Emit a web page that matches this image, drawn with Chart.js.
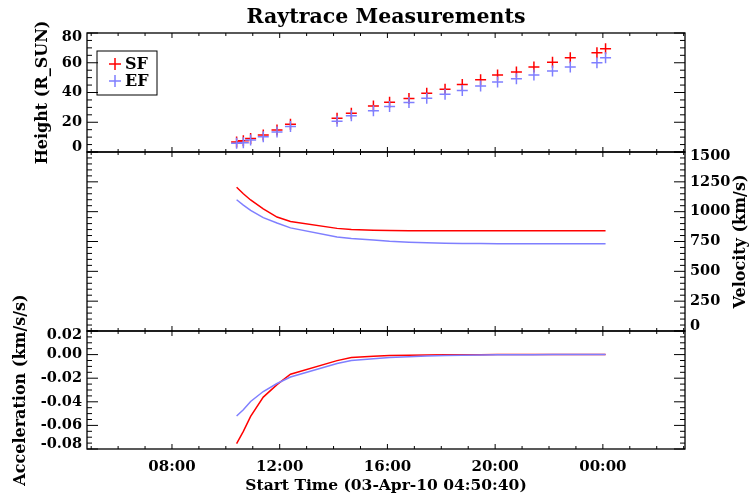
<!DOCTYPE html>
<html lang="en">
<head>
<meta charset="UTF-8">
<title>Raytrace Measurements</title>
<script src="https://cdn.jsdelivr.net/npm/chart.js"></script>
<style>
  body { margin: 0; background: #fff; }
  #wrap { position: relative; width: 750px; height: 501px; }
  #wrap canvas { position: absolute; left: 0; top: 0; }
</style>
</head>
<body>
<div id="wrap">
  <canvas id="heightChart" width="750" height="501"></canvas>
  <canvas id="velChart" width="750" height="501"></canvas>
  <canvas id="accChart" width="750" height="501"></canvas>
</div>
<script>
// time axis in hours after 03-Apr-10 00:00
const startHour = 4 + 50 / 60 + 40 / 3600;
const endHour = 27.05;
const xTickHours = [8, 12, 16, 20, 24];
const xTickLabels = ['08:00', '12:00', '16:00', '20:00', '00:00'];

const times = [10.40, 10.65, 10.92, 11.39, 11.90, 12.40, 14.13, 14.66, 15.48, 16.08, 16.80,
               17.46, 18.14, 18.78, 19.46, 20.09, 20.79, 21.44, 22.13, 22.79, 23.78, 24.10];

const heightSF = [6.7, 7.6, 9.0, 11.5, 14.8, 18.6, 22.7, 26.1, 31.0, 33.4, 35.9,
                  39.5, 42.2, 45.4, 48.5, 51.8, 53.7, 57.1, 60.4, 63.3, 66.7, 69.4];
const heightEF = [5.8, 6.3, 8.1, 10.3, 13.5, 17.1, 20.7, 24.3, 27.8, 30.6, 33.2,
                  36.2, 38.9, 41.3, 44.3, 47.0, 49.2, 51.7, 54.4, 57.1, 60.0, 63.3];

const velSF = [1204, 1150, 1098, 1024, 955, 918, 860, 850, 845, 842, 841,
               840, 840, 840, 840, 840, 840, 840, 840, 840, 840, 840];
const velEF = [1100, 1055, 1010, 950, 905, 864, 788, 775, 762, 752, 744,
               739, 736, 734, 733, 732, 732, 732, 732, 732, 732, 732];

const accSF = [-0.0755, -0.065, -0.0524, -0.036, -0.0254, -0.0166, -0.0051, -0.0025, -0.0013, -0.0008, -0.0005,
               -0.0003, -0.0002, -0.0001, -0.0001, 0, 0, 0, 0, 0, 0, 0];
const accEF = [-0.052, -0.0468, -0.0397, -0.0313, -0.0245, -0.019, -0.0075, -0.005, -0.0035, -0.0025, -0.0018,
               -0.0012, -0.0008, -0.0005, -0.0003, -0.0002, -0.0001, -0.0001, 0, 0, 0, 0];

const heightTicks = [0, 20, 40, 60, 80];
const velTicks = [0, 250, 500, 750, 1000, 1250, 1500];
const accTicks = [-0.08, -0.06, -0.04, -0.02, 0, 0.02];

const RED = '#ff0000';
const BLUE = '#7f7fff';
const FONT = 'DejaVu Serif';
const LABEL_SIZE = 14.5;

Chart.defaults.font.family = FONT;
Chart.defaults.font.weight = 'bold';
Chart.defaults.color = '#000';

const pts = (ys) => ys.map((y, i) => ({ x: times[i], y: y }));

// nudge the end labels inward like IDL does
function edgeLabel(text, value, ticks) {
  if (value === ticks[ticks.length - 1]) return ['', text];
  if (value === ticks[0]) return [text, ''];
  return text;
}

// box around the plot area with inward ticks on all four sides
function idlFrame(o) {
  return {
    id: 'idlFrame',
    afterDraw(chart) {
      const { ctx, chartArea: a } = chart;
      const x = chart.scales.x, y = chart.scales.y;
      ctx.save();
      ctx.strokeStyle = '#000';
      ctx.lineWidth = 1.3;
      ctx.strokeRect(a.left, a.top, a.right - a.left, a.bottom - a.top);
      ctx.lineWidth = 1;
      ctx.beginPath();
      const steps = (sc, minor, major, fn) => {
        const k0 = Math.ceil(sc.min / minor - 1e-6), k1 = Math.floor(sc.max / minor + 1e-6);
        for (let k = k0; k <= k1; k++) {
          const v = k * minor;
          const r = v / major;
          fn(sc.getPixelForValue(v), Math.abs(r - Math.round(r)) < 1e-6);
        }
      };
      steps(x, 1, 4, (px, big) => {
        const l = big ? 5 : 3;
        ctx.moveTo(px, a.bottom); ctx.lineTo(px, a.bottom - l);
        ctx.moveTo(px, a.top); ctx.lineTo(px, a.top + l);
      });
      steps(y, o.yMinor, o.yMajor, (py, big) => {
        const l = big ? 11 : 5;
        ctx.moveTo(a.left, py); ctx.lineTo(a.left + l, py);
        ctx.moveTo(a.right, py); ctx.lineTo(a.right - l, py);
      });
      ctx.stroke();
      ctx.restore();
    }
  };
}

const hiddenX = { type: 'linear', display: false, min: startHour, max: endHour };

// --- height panel ---
const legendBox = {
  id: 'legendBox',
  afterDraw(chart) {
    const { ctx, chartArea: a } = chart;
    const bx = a.left + 10, by = a.top + 18;
    ctx.save();
    ctx.strokeStyle = '#000';
    ctx.lineWidth = 1;
    ctx.strokeRect(bx, by, 60, 44);
    ctx.font = 'bold 16px "' + FONT + '"';
    ctx.textBaseline = 'middle';
    const sets = [chart.data.datasets[1], chart.data.datasets[0]];
    sets.forEach((ds, i) => {
      const cy = by + 13 + i * 17, cx = bx + 18;
      ctx.strokeStyle = ds.borderColor;
      ctx.lineWidth = 1.5;
      ctx.beginPath();
      ctx.moveTo(cx - 6, cy); ctx.lineTo(cx + 6, cy);
      ctx.moveTo(cx, cy - 6); ctx.lineTo(cx, cy + 6);
      ctx.stroke();
      ctx.fillStyle = '#000';
      ctx.fillText(ds.label, bx + 28, cy + 1);
    });
    ctx.restore();
  }
};

new Chart(document.getElementById('heightChart'), {
  type: 'scatter',
  data: {
    datasets: [
      { label: 'EF', data: pts(heightEF), borderColor: BLUE, backgroundColor: BLUE,
        pointStyle: 'cross', pointRadius: 5.5, pointBorderWidth: 1.5, order: 0 },
      { label: 'SF', data: pts(heightSF), borderColor: RED, backgroundColor: RED,
        pointStyle: 'cross', pointRadius: 5.5, pointBorderWidth: 1.5, order: 1 }
    ]
  },
  options: {
    responsive: false,
    animation: false,
    layout: { padding: { left: 0, right: 65, top: 0, bottom: 349 } },
    plugins: {
      legend: { display: false },
      tooltip: { enabled: false },
      title: { display: true, text: 'Raytrace Measurements', fullSize: false,
               font: { size: 20.5, weight: 'bold' }, color: '#000', padding: { top: 5, bottom: 3.4 } }
    },
    scales: {
      x: hiddenX,
      y: {
        min: 0, max: 80,
        grid: { display: false, drawTicks: false },
        border: { display: false },
        afterBuildTicks: s => { s.ticks = heightTicks.map(v => ({ value: v })); },
        afterFit: s => { s.width = 87; },
        ticks: { padding: 5, font: { size: LABEL_SIZE, lineHeight: 0.6 },
                 callback: v => edgeLabel(String(v), v, heightTicks) },
        title: { display: true, text: 'Height (R_SUN)', font: { size: 16 }, padding: { top: 33 } }
      }
    }
  },
  plugins: [idlFrame({ yMinor: 5, yMajor: 20 }), legendBox]
});

// --- velocity panel ---
const sideTitle = {
  id: 'sideTitle',
  afterDraw(chart) {
    const { ctx, chartArea: a } = chart;
    ctx.save();
    ctx.font = 'bold 16px "' + FONT + '"';
    ctx.fillStyle = '#000';
    ctx.textAlign = 'center';
    ctx.textBaseline = 'middle';
    ctx.translate(a.right + 56, (a.top + a.bottom) / 2);
    ctx.rotate(-Math.PI / 2);
    ctx.fillText('Velocity (km/s)', 0, 0);
    ctx.restore();
  }
};

new Chart(document.getElementById('velChart'), {
  type: 'line',
  data: {
    datasets: [
      { label: 'EF', data: pts(velEF), borderColor: BLUE, borderWidth: 1.5, pointRadius: 0, tension: 0, order: 0 },
      { label: 'SF', data: pts(velSF), borderColor: RED, borderWidth: 1.5, pointRadius: 0, tension: 0, order: 1 }
    ]
  },
  options: {
    responsive: false,
    animation: false,
    layout: { padding: { left: 87, right: 0, top: 152, bottom: 170 } },
    plugins: { legend: { display: false }, tooltip: { enabled: false } },
    scales: {
      x: hiddenX,
      y: {
        position: 'right',
        min: 0, max: 1500,
        grid: { display: false, drawTicks: false },
        border: { display: false },
        afterBuildTicks: s => { s.ticks = velTicks.map(v => ({ value: v })); },
        afterFit: s => { s.width = 65; },
        ticks: { padding: 5, font: { size: LABEL_SIZE, lineHeight: 0.6 },
                 callback: v => edgeLabel(String(v), v, velTicks) }
      }
    }
  },
  plugins: [idlFrame({ yMinor: 50, yMajor: 250 }), sideTitle]
});

// --- acceleration panel ---
new Chart(document.getElementById('accChart'), {
  type: 'line',
  data: {
    datasets: [
      { label: 'EF', data: pts(accEF), borderColor: BLUE, borderWidth: 1.5, pointRadius: 0, tension: 0, order: 0 },
      { label: 'SF', data: pts(accSF), borderColor: RED, borderWidth: 1.5, pointRadius: 0, tension: 0, order: 1 }
    ]
  },
  options: {
    responsive: false,
    animation: false,
    layout: { padding: { left: 0, right: 65, top: 331, bottom: 0 } },
    plugins: { legend: { display: false }, tooltip: { enabled: false } },
    scales: {
      x: {
        type: 'linear', min: startHour, max: endHour,
        grid: { display: false, drawTicks: false },
        border: { display: false },
        afterBuildTicks: s => { s.ticks = xTickHours.map(v => ({ value: v })); },
        afterFit: s => { s.height = 52; },
        ticks: { padding: 9, maxRotation: 0, font: { size: 15 },
                 callback: (v, i) => xTickLabels[i] },
        title: { display: true, text: 'Start Time (03-Apr-10 04:50:40)', font: { size: 15.5 },
                 padding: { top: 0, bottom: 6 } }
      },
      y: {
        min: -0.08, max: 0.02,
        grid: { display: false, drawTicks: false },
        border: { display: false },
        afterBuildTicks: s => { s.ticks = accTicks.map(v => ({ value: v })); },
        afterFit: s => { s.width = 87; },
        ticks: { padding: 5, font: { size: LABEL_SIZE, lineHeight: 0.6 },
                 callback: v => edgeLabel(v.toFixed(2), v, accTicks) },
        title: { display: true, text: 'Acceleration (km/s/s)', font: { size: 16 }, padding: { top: 11 } }
      }
    }
  },
  plugins: [idlFrame({ yMinor: 0.005, yMajor: 0.02 })]
});
</script>
</body>
</html>
